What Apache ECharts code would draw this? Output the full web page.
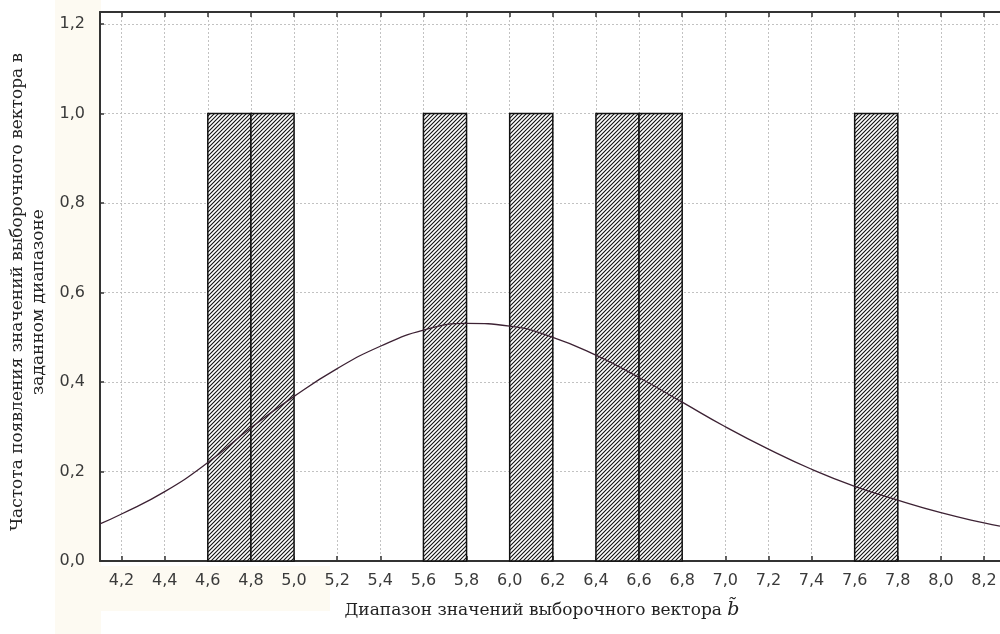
<!DOCTYPE html>
<html>
<head>
<meta charset="utf-8">
<script src="https://cdn.jsdelivr.net/npm/echarts@6/dist/echarts.min.js"></script>
<style>
html,body{margin:0;padding:0;background:#fff;}
#chart{width:1000px;height:634px;}
</style>
</head>
<body>
<div id="chart"></div>
<script>
// ---- data ----
const xTicks = [4.2,4.4,4.6,4.8,5.0,5.2,5.4,5.6,5.8,6.0,6.2,6.4,6.6,6.8,7.0,7.2,7.4,7.6,7.8,8.0,8.2];
const yTicks = [0,0.2,0.4,0.6,0.8,1.0,1.2];
const binStart = [4.6,4.8,5.6,6.0,6.4,6.6,7.6];
const binEnd   = [4.8,5.0,5.8,6.2,6.6,6.8,7.8];
const binFreq  = [1,1,1,1,1,1,1];
const curveX = [4.1,4.2,4.4,4.6,4.8,5.0,5.2,5.4,5.6,5.8,6.0,6.2,6.4,6.6,6.8,7.0,7.2,7.4,7.6,7.8,8.0,8.2,8.274];
const curveY = [0.083,0.105,0.155,0.220,0.298,0.368,0.430,0.480,0.516,0.531,0.525,0.500,0.460,0.410,0.355,0.300,0.250,0.205,0.167,0.136,0.108,0.085,0.078];
const xTitle = 'Диапазон значений выборочного вектора ';
const yTitle1 = 'Частота появления значений выборочного вектора в';
const yTitle2 = 'заданном диапазоне';

// hatch pattern
function hatch(){
  const c = document.createElement('canvas');
  c.width = 4; c.height = 4;
  const g = c.getContext('2d');
  g.fillStyle = '#ffffff'; g.fillRect(0,0,4,4);
  g.strokeStyle = '#111111'; g.lineWidth = 1.1;
  g.beginPath();
  g.moveTo(0,4); g.lineTo(4,0);
  g.moveTo(-1,1); g.lineTo(1,-1);
  g.moveTo(3,5); g.lineTo(5,3);
  g.stroke();
  return c;
}
const hatchImg = hatch();

const bins = binStart.map((s,i)=>[s, binEnd[i], binFreq[i]]);
const curve = curveX.map((x,i)=>[x, curveY[i]]);
const fmt = v => Number(v).toFixed(1).replace('.', ',');

const chart = echarts.init(document.getElementById('chart'), null, {renderer:'canvas'});
const gridLine = {show:true, lineStyle:{color:'#c2c2c2', width:1, type:[2,2]}};
const titleFont = '17px "DejaVu Serif"';
const option = {
  animation:false,
  backgroundColor:'#ffffff',
  graphic:[
    {type:'rect', z:-10, shape:{x:55,y:0,width:46,height:634}, style:{fill:'#fdfaf2'}},
    {type:'rect', z:-10, shape:{x:100,y:566,width:230,height:45}, style:{fill:'#fdfaf2'}},
    {type:'text', z:10, rotation:Math.PI/2, x:18, y:292,
      style:{text:yTitle1, font:titleFont, fill:'#222', align:'center', verticalAlign:'middle'}},
    {type:'text', z:10, rotation:Math.PI/2, x:39, y:302,
      style:{text:yTitle2, font:titleFont, fill:'#222', align:'center', verticalAlign:'middle'}}
  ],
  grid:{left:100, right:0, top:12, bottom:73, containLabel:false},
  xAxis:[{
    type:'value', min:4.1, max:8.274, position:'bottom',
    name: xTitle + '{b|b̃}', nameLocation:'middle', nameGap:40,
    nameTextStyle:{fontFamily:'DejaVu Serif', fontSize:17, color:'#222', padding:[0,16,0,0],
      rich:{b:{fontFamily:'DejaVu Serif', fontStyle:'italic', fontSize:19, color:'#222'}}},
    axisLine:{show:true, lineStyle:{color:'#333', width:2}},
    axisTick:{show:true, inside:true, length:5, customValues:xTicks, lineStyle:{color:'#333', width:1.5}},
    axisLabel:{customValues:xTicks, formatter:fmt, fontFamily:'DejaVu Sans', fontSize:16, color:'#3a3a3a', margin:12},
    splitLine:gridLine
  },{
    type:'value', min:4.1, max:8.274, position:'top',
    axisLine:{show:true, lineStyle:{color:'#333', width:2}},
    axisTick:{show:true, inside:true, length:5, customValues:xTicks, lineStyle:{color:'#333', width:1.5}},
    axisLabel:{show:false},
    splitLine:{show:false}
  }],
  yAxis:{
    type:'value', min:0, max:1.227,
    axisLine:{show:true, lineStyle:{color:'#333', width:2}},
    axisTick:{show:true, inside:true, length:4, customValues:yTicks, lineStyle:{color:'#333', width:1.5}},
    axisLabel:{customValues:yTicks, formatter:fmt, fontFamily:'DejaVu Sans', fontSize:16, color:'#3a3a3a', margin:15},
    splitLine:gridLine
  },
  series:[{
    type:'custom',
    xAxisIndex:0,
    z:2,
    data:bins,
    renderItem:function(params, api){
      const p0 = api.coord([api.value(0), api.value(2)]);
      const p1 = api.coord([api.value(1), 0]);
      return {
        type:'rect',
        shape:{x:p0[0], y:p0[1], width:p1[0]-p0[0], height:p1[1]-p0[1]},
        style:{fill:{image:hatchImg, repeat:'repeat'}, stroke:'#111', lineWidth:1.5}
      };
    }
  },{
    type:'line',
    xAxisIndex:0,
    z:5,
    data:curve,
    smooth:true,
    showSymbol:false,
    lineStyle:{color:'#3d2234', width:1.3}
  }]
};
chart.setOption(option);
</script>
</body>
</html>
